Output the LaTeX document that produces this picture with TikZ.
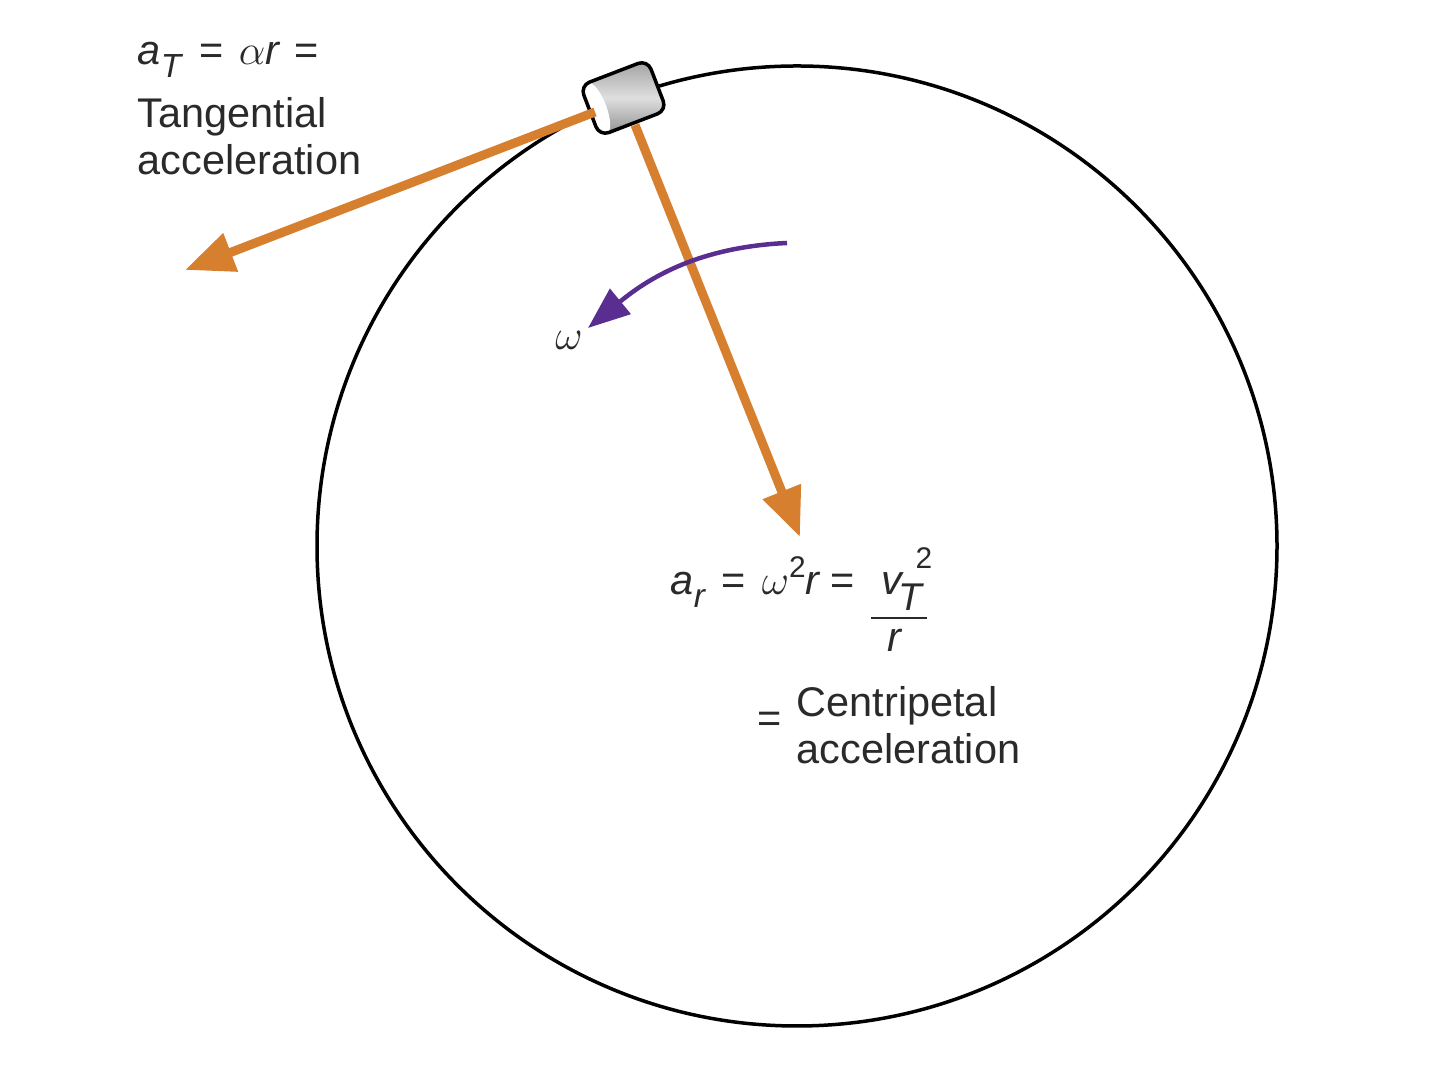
\documentclass[tikz,border=0pt]{standalone}
\usepackage{fontspec}
\setmainfont{Liberation Sans}
\usetikzlibrary{arrows.meta}
\definecolor{vecorange}{HTML}{D6802F}
\definecolor{omegapurple}{HTML}{5A2D91}
\definecolor{inkgray}{HTML}{2A2A2A}
\tikzset{
  vector/.style={vecorange,line width=0.09cm,-{Triangle[length=0.49cm,width=0.39cm]}},
  lbl/.style={anchor=base west,inner sep=0pt,text=inkgray,font=\fontsize{11.8}{14}\selectfont},
  sublbl/.style={anchor=base west,inner sep=0pt,text=inkgray,font=\fontsize{8.5}{10}\selectfont}
}
\newcommand{\lowr}[1]{\raisebox{-0.3em}{\fontsize{9.5}{11}\selectfont\itshape #1}}
\begin{document}
\begin{tikzpicture}
  \useasboundingbox (0,0) rectangle (14.4,10.77);

  % rim
  \node[circle,draw=black,line width=0.035cm,minimum size=9.6cm,inner sep=0pt] (rim) at (7.97,5.31) {};

  % bead end points
  \coordinate (tstart) at (5.95,9.65);
  \coordinate (ttip) at (1.85,8.07);
  \coordinate (rstart) at (6.35,9.52);
  \coordinate (rtip) at (8.0,5.4);
  \coordinate (wstart) at (7.87,8.34);
  \coordinate (wtip) at (5.88,7.49);

  \draw[vector] (rstart) -- (rtip);
  \draw[omegapurple,line width=0.045cm,-{Triangle[length=0.42cm,width=0.32cm]}] (wstart) .. controls (7.0,8.3) and (6.5,8.0) .. (wtip);

  % bead
  \begin{scope}[shift={(6.235,9.79)},rotate=21]
    \fill[rounded corners=0.1cm,top color=gray!75,bottom color=gray!90,middle color=gray!25] (-0.36,-0.27) rectangle (0.36,0.27);
    \begin{scope}
      \clip[rounded corners=0.1cm] (-0.36,-0.27) rectangle (0.36,0.27);
      \fill[white] (-0.28,0) ellipse (0.09 and 0.27);
      \fill[white] (-0.36,-0.27) rectangle (-0.28,0.27);
    \end{scope}
    \draw[black,line width=0.035cm,rounded corners=0.1cm] (-0.36,-0.27) rectangle (0.36,0.27);
  \end{scope}
  \draw[vector] (tstart) -- (ttip);

  % tangential
  \node[lbl] (at) at (1.37,10.12) {\textit{a}\lowr{T}\, =\,\hspace{-0.08em} $\alpha$\textit{r}\hspace{0.05em} =};
  \node[lbl] (tang) at (1.37,9.49) {Tangential};
  \node[lbl] (tacc) at (1.37,9.02) {acceleration};

  % omega
  \node[text=inkgray,inner sep=0pt,font=\fontsize{13}{15}\selectfont] (om) at (5.69,7.37) {$\omega$};

  % centripetal
  \node[lbl] (ar) at (6.70,4.82) {\textit{a}\lowr{r}\hspace{-0.05em}\, =\hspace{-0.05em}\, $\omega$\raisebox{0.42em}{\fontsize{8.5}{10}\selectfont 2}\textit{r}\hspace{-0.05em} =};
  \node[lbl,font=\fontsize{11.8}{14}\selectfont\itshape] (vt) at (8.81,4.82) {v};
  \node[sublbl,font=\fontsize{11}{13}\selectfont\itshape] (vtsub) at (8.98,4.66) {T};
  \node[sublbl] (vtsq) at (9.15,5.08) {2};
  \node[lbl,font=\fontsize{11.8}{14}\selectfont\itshape] (den) at (8.87,4.25) {r};
  \coordinate (barl) at (8.71,4.59);
  \coordinate (barr) at (9.27,4.59);
  \draw[inkgray,line width=0.025cm] (barl) -- (barr);

  \node[lbl] (eq) at (7.57,3.44) {=};
  \node[lbl] (cent) at (7.96,3.60) {Centripetal};
  \node[lbl] (cacc) at (7.96,3.13) {acceleration};
\end{tikzpicture}
\end{document}
